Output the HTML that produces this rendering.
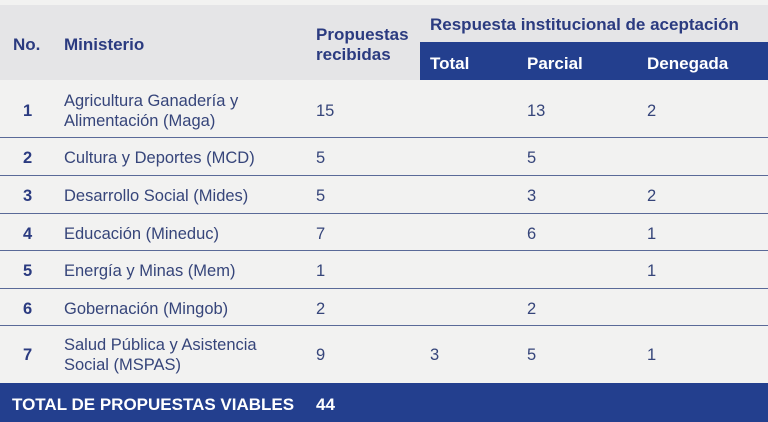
<!DOCTYPE html>
<html><head><meta charset="utf-8"><style>
body{margin:0;width:768px;height:422px;background:#f2f2f1;position:relative;overflow:hidden;font-family:"Liberation Sans",sans-serif;}
.a{position:absolute;white-space:nowrap}
.h{font-weight:bold;color:#2b3b80;font-size:17px;line-height:20px}
.t{color:#36457a;font-size:16.5px;line-height:20px}
.n{font-weight:bold;color:#2b3b80;font-size:16.5px;line-height:20px}
.line{position:absolute;left:0;width:768px;height:1px;background:#5a6a98}
.w{color:#fff}
</style></head><body>
<div class="a" style="left:0;top:5px;width:768px;height:75px;background:#e5e5e7"></div>
<div class="a" style="left:420px;top:42px;width:348px;height:38px;background:#233f8e"></div>
<div class="a h" style="left:13px;top:35px">No.</div>
<div class="a h" style="left:64px;top:35px">Ministerio</div>
<div class="a h" style="left:316px;top:25px">Propuestas<br>recibidas</div>
<div class="a h" style="left:430px;top:15px">Respuesta institucional de aceptación</div>
<div class="a h w" style="left:430px;top:54px">Total</div>
<div class="a h w" style="left:527px;top:54px">Parcial</div>
<div class="a h w" style="left:647px;top:54px">Denegada</div>

<div class="line" style="top:137px"></div>
<div class="line" style="top:175px"></div>
<div class="line" style="top:213px"></div>
<div class="line" style="top:250px"></div>
<div class="line" style="top:288px"></div>
<div class="line" style="top:325px"></div>

<div class="a n" style="left:23px;top:101px">1</div>
<div class="a t" style="left:64px;top:91px">Agricultura Ganadería y<br>Alimentación (Maga)</div>
<div class="a t" style="left:316px;top:101px">15</div>
<div class="a t" style="left:527px;top:101px">13</div>
<div class="a t" style="left:647px;top:101px">2</div>

<div class="a n" style="left:23px;top:148px">2</div>
<div class="a t" style="left:64px;top:148px">Cultura y Deportes (MCD)</div>
<div class="a t" style="left:316px;top:148px">5</div>
<div class="a t" style="left:527px;top:148px">5</div>

<div class="a n" style="left:23px;top:186px">3</div>
<div class="a t" style="left:64px;top:186px">Desarrollo Social (Mides)</div>
<div class="a t" style="left:316px;top:186px">5</div>
<div class="a t" style="left:527px;top:186px">3</div>
<div class="a t" style="left:647px;top:186px">2</div>

<div class="a n" style="left:23px;top:224px">4</div>
<div class="a t" style="left:64px;top:224px">Educación (Mineduc)</div>
<div class="a t" style="left:316px;top:224px">7</div>
<div class="a t" style="left:527px;top:224px">6</div>
<div class="a t" style="left:647px;top:224px">1</div>

<div class="a n" style="left:23px;top:261px">5</div>
<div class="a t" style="left:64px;top:261px">Energía y Minas (Mem)</div>
<div class="a t" style="left:316px;top:261px">1</div>
<div class="a t" style="left:647px;top:261px">1</div>

<div class="a n" style="left:23px;top:299px">6</div>
<div class="a t" style="left:64px;top:299px">Gobernación (Mingob)</div>
<div class="a t" style="left:316px;top:299px">2</div>
<div class="a t" style="left:527px;top:299px">2</div>

<div class="a n" style="left:23px;top:345px">7</div>
<div class="a t" style="left:64px;top:335px">Salud Pública y Asistencia<br>Social (MSPAS)</div>
<div class="a t" style="left:316px;top:345px">9</div>
<div class="a t" style="left:430px;top:345px">3</div>
<div class="a t" style="left:527px;top:345px">5</div>
<div class="a t" style="left:647px;top:345px">1</div>

<div class="a" style="left:0;top:383px;width:768px;height:39px;background:#233f8e"></div>
<div class="a h w" style="left:12px;top:395px">TOTAL DE PROPUESTAS VIABLES</div>
<div class="a h w" style="left:316px;top:395px">44</div>
</body></html>
